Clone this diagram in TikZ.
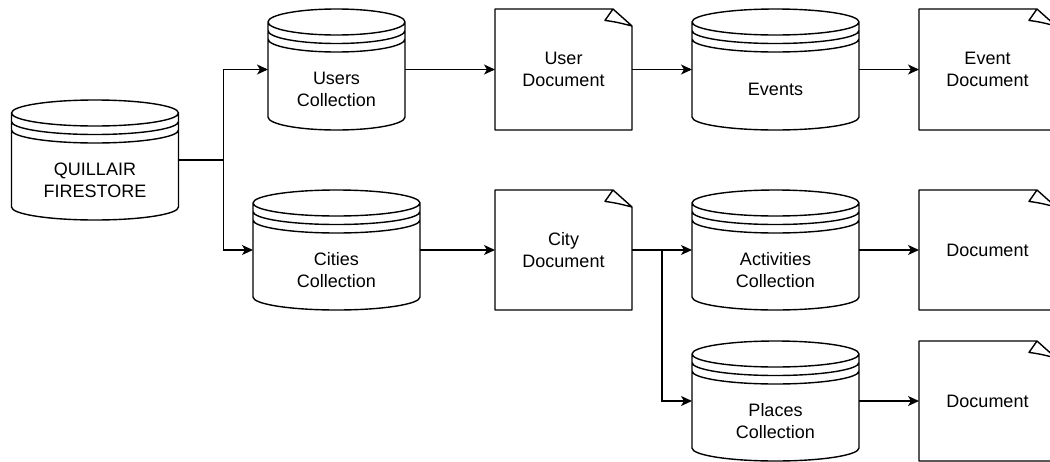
\documentclass[tikz,border=0pt]{standalone}
\usepackage{fontspec}
\setmainfont{Liberation Sans}
\usetikzlibrary{arrows.meta,calc}

% Data store: a cylinder with a banded lid, drawn around a named node
\newcommand\drawstore[1]{%
  \draw[shapeline] let \p1=(#1.north west), \p2=(#1.south east), \n1={(\x2-\x1)/2} in
    (\x1,\y1-13pt) -- (\x1,\y2+13pt)
    arc[start angle=180, end angle=360, x radius=\n1, y radius=13pt]
    -- (\x2,\y1-13pt)
    arc[start angle=0, end angle=180, x radius=\n1, y radius=13pt]
    arc[start angle=180, end angle=360, x radius=\n1, y radius=13pt]
    (\x1,\y1-21.5pt) arc[start angle=180, end angle=360, x radius=\n1, y radius=13pt]
    (\x1,\y1-30pt) arc[start angle=180, end angle=360, x radius=\n1, y radius=13pt];
}
% Document sheet with a curled top-right corner
\newcommand\drawsheet[1]{%
  \draw[shapeline] let \p1=(#1.north west), \p2=(#1.south east) in
    (\x1,\y1) -- (\x2-19pt,\y1) -- (\x2,\y1-17pt) -- (\x2,\y2) -- (\x1,\y2) -- cycle
    (\x2-19pt,\y1) -- (\x2-27pt,\y1-11.4pt)
    .. controls (\x2-16pt,\y1-13pt) .. (\x2,\y1-17pt);
}

\tikzset{
  shapeline/.style={line width=1.4pt, line join=round},
  link/.style={line width=1.4pt},
  arr/.style={line width=1.4pt, -{Stealth[length=11pt, width=10pt, inset=3pt]}},
  store/.style={shape=rectangle, inner sep=0pt, outer sep=0pt,
    minimum width=167pt, minimum height=120pt},
  narrowstore/.style={store, minimum width=137pt, minimum height=121pt},
  sheet/.style={shape=rectangle, inner sep=0pt, outer sep=0pt, align=center,
    minimum width=137pt, minimum height=121pt},
  storetext/.style={align=center, yshift=-20pt, inner sep=0pt},
}

\begin{document}
\begin{tikzpicture}[x=1pt, y=-1pt,
  every node/.append style={font=\fontsize{18pt}{21.6pt}\selectfont}]
  \useasboundingbox (0,0) rectangle (1050,461);

  % Stores
  \node[store, label={[storetext]center:{QUILLAIR\\FIRESTORE}}] (fs) at (95,160) {};
  \node[narrowstore, label={[storetext]center:{Users\\Collection}}] (users) at (336.5,69.5) {};
  \node[store, label={[storetext]center:{Cities\\Collection}}] (cities) at (336.5,250) {};
  \node[store, minimum height=121pt, label={[storetext]center:{Events}}] (events) at (775.5,69.5) {};
  \node[store, label={[storetext]center:{Activities\\Collection}}] (acts) at (775.5,250) {};
  \node[store, label={[storetext]center:{Places\\Collection}}] (places) at (775.5,401) {};

  % Documents
  \node[sheet] (udoc) at (563.5,69.5) {User\\Document};
  \node[sheet, minimum height=120pt] (cdoc) at (563.5,250) {City\\Document};
  \node[sheet] (edoc) at (987.5,69.5) {Event\\Document};
  \node[sheet, minimum height=120pt] (adoc) at (987.5,250) {Document};
  \node[sheet, minimum height=120pt] (pdoc) at (987.5,401) {Document};

  \foreach \s in {fs,users,cities,events,acts,places} {\drawstore{\s}}
  \foreach \s in {udoc,cdoc,edoc,adoc,pdoc} {\drawsheet{\s}}

  % Branch points
  \coordinate (j1) at ($(fs.east)+(45,0)$);
  \coordinate (j2) at ($(cdoc.east)+(30,0)$);

  % Connectors
  \draw[link] (fs.east) -- (j1);
  \draw[arr] (j1) |- (users.west);
  \draw[arr] (j1) |- (cities.west);
  \draw[arr] (users) -- (udoc);
  \draw[arr] (udoc) -- (events);
  \draw[arr] (events) -- (edoc);
  \draw[arr] (cities) -- (cdoc);
  \draw[link] (cdoc.east) -- (j2);
  \draw[arr] (j2) -- (acts.west);
  \draw[arr] (j2) |- (places.west);
  \draw[arr] (acts) -- (adoc);
  \draw[arr] (places) -- (pdoc);
\end{tikzpicture}
\end{document}
